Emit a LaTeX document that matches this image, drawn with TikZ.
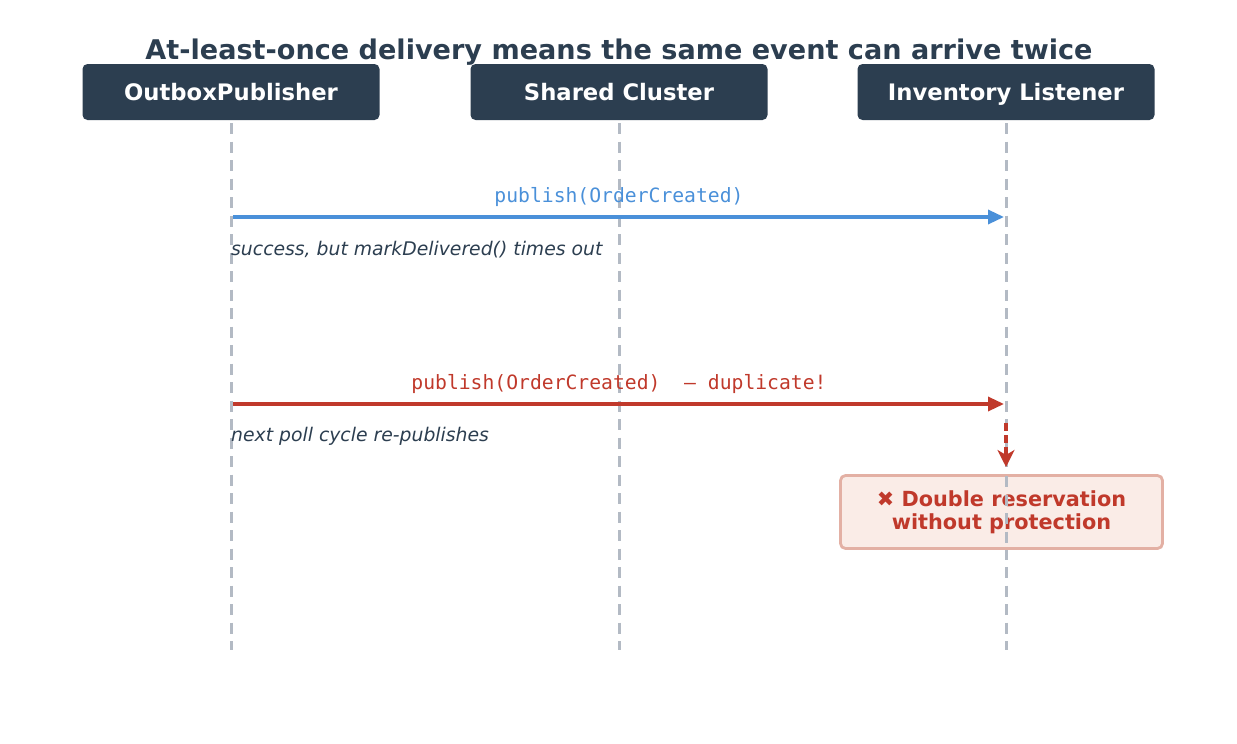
\documentclass[tikz,border=0pt]{standalone}
\usepackage{fontspec}
\setmainfont{DejaVu Sans}
\setmonofont{DejaVu Sans Mono}
\usetikzlibrary{arrows.meta}
\definecolor{navy}{HTML}{2C3E50}
\definecolor{life}{HTML}{B3BAC4}
\definecolor{blu}{HTML}{4A90D9}
\definecolor{rd}{HTML}{C0392B}
\definecolor{rfill}{HTML}{FAECE7}
\definecolor{rline}{HTML}{E3B0A4}
\tikzset{
  actor/.style={fill=navy, rounded corners=5pt, minimum width=297pt, minimum height=56pt, text=white, font=\fontsize{22.7}{26}\selectfont\bfseries, inner sep=0pt, text height=22.6pt, text depth=5pt},
  lifeline/.style={life, line width=3pt, dash pattern=on 11pt off 7.5pt},
  msg/.style={line width=3.3pt, -{Triangle[length=16pt,width=14pt]}},
  code/.style={font=\fontsize{19.7}{22}\selectfont\ttfamily, inner sep=0pt, text height=0.75em, text depth=0.22em},
  note/.style={text=navy, font=\fontsize{18.8}{22}\selectfont\itshape, inner sep=0pt, anchor=west, text height=0.75em, text depth=0.22em},
}
\begin{document}
\begin{tikzpicture}[x=1pt,y=-1pt]
\useasboundingbox (0,0) rectangle (1237,744);
\node[text=navy, font=\fontsize{27.1}{30}\selectfont\bfseries, inner sep=0pt, text height=0.73em, text depth=0.22em] (title) at (619,57) {At-least-once delivery means the same event can arrive twice};
\node[actor] (pub) at (231,92) {OutboxPublisher};
\node[actor] (clu) at (619,92) {Shared Cluster};
\node[actor] (inv) at (1006,92) {Inventory Listener};
\coordinate (pubend) at (231,650);
\coordinate (cluend) at (619,650);
\coordinate (invend) at (1006,650);
\draw[lifeline, dash phase=-3pt] (pub.south) -- (pubend);
\draw[lifeline, dash phase=-3pt] (clu.south) -- (cluend);
\draw[lifeline, dash phase=-3pt] (inv.south) -- (invend);
% message 1
\coordinate (m1s) at (233,217);
\coordinate (m1e) at (1004,217);
\draw[msg, blu] (m1s) -- (m1e);
\node[code, text=blu] (l1) at (619,200) {publish(OrderCreated)};
\node[note] (n1) at (231,253) {success, but markDelivered() times out};
% message 2
\coordinate (m2s) at (233,404);
\coordinate (m2e) at (1004,404);
\draw[msg, rd] (m2s) -- (m2e);
\node[code, text=rd] (l2) at (619,387) {publish(OrderCreated)\ \ — duplicate!};
\node[note] (n2) at (231,439) {next poll cycle re-publishes};
% result
\node[draw=rline, fill=rfill, line width=2.8pt, rounded corners=5pt, minimum width=322pt, minimum height=73pt, text=rd, font=\fontsize{20.8}{23}\selectfont\bfseries, align=center, inner sep=0pt] (res) at (1001.5,512) {✖ Double reservation\\without protection};
\draw[lifeline] (1006,476) -- (1006,549);
\coordinate (ds) at (1006,423);
\draw[rd, line width=3.3pt, dash pattern=on 8pt off 4pt, -{Stealth[length=17pt,width=17pt,inset=5pt]}] (ds) -- (1006,467);
\end{tikzpicture}
\end{document}
